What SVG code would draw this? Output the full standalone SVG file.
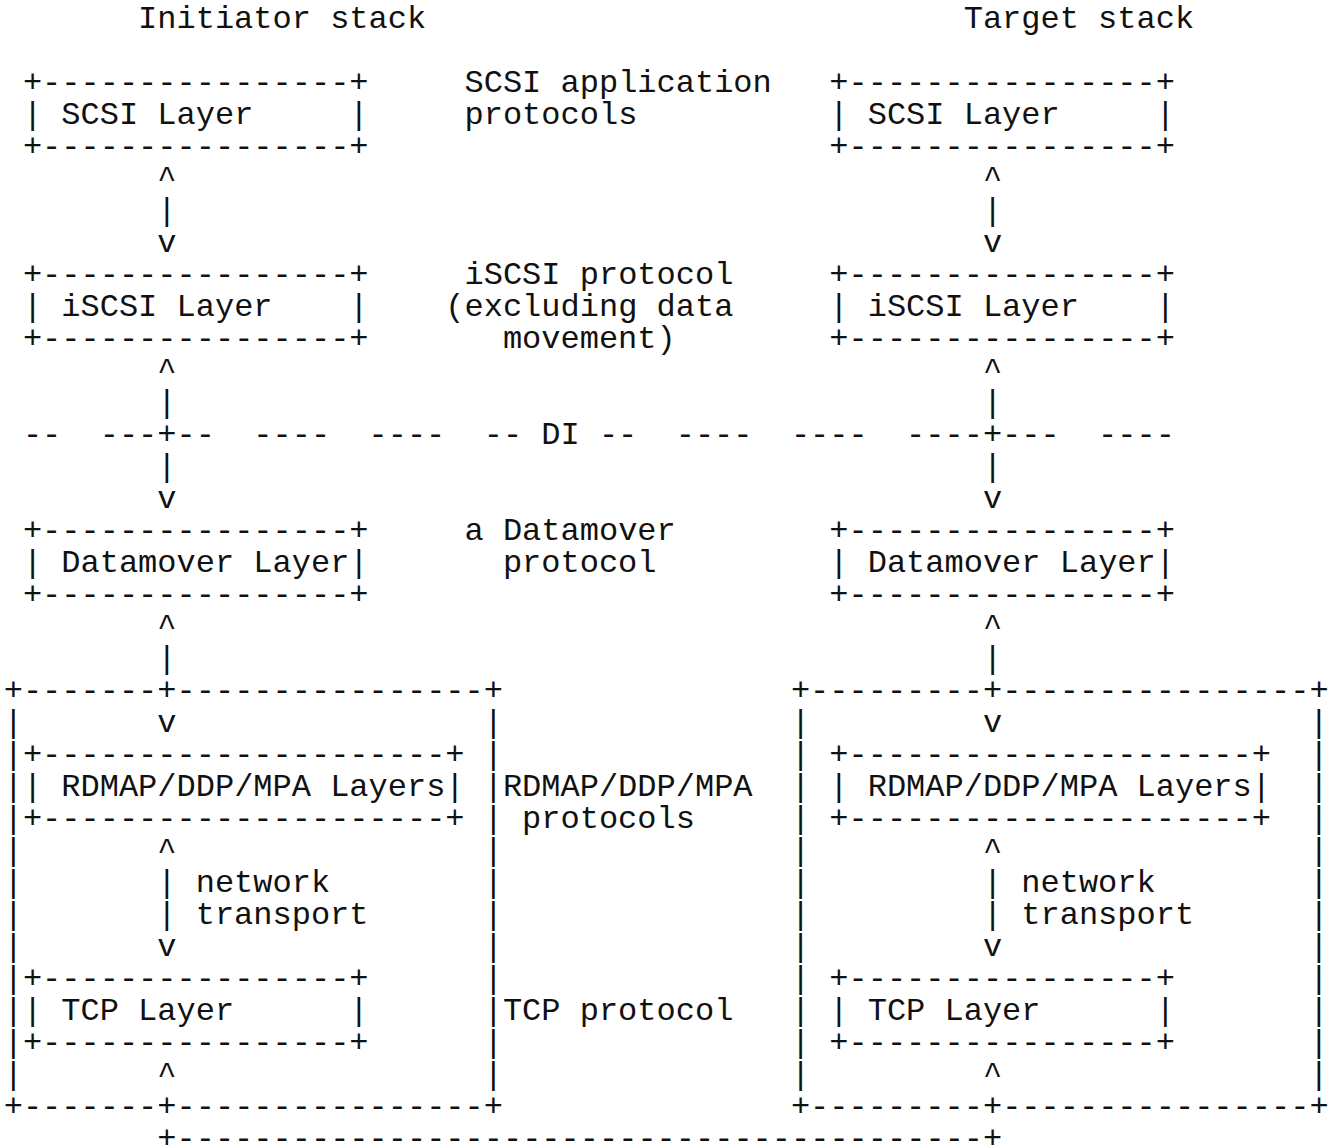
<svg xmlns="http://www.w3.org/2000/svg" width="1331" height="1146" viewBox="0 0 1331 1146" xml:space="preserve">
<style>
text { font-family: "Liberation Mono", "Courier New", monospace; font-size: 32px; fill: #111; }
</style>
<rect width="1331" height="1146" fill="#fff"/>
<g id="titles">
<text x="138.1" y="28">Initiator stack</text>
<text x="963.7" y="28">Target stack</text>
</g>
<g id="init-scsi">
<text x="22.9" y="92">+----------------+</text>
<text><tspan x="22.9" y="124">|</tspan><tspan x="61.3" y="124">SCSI Layer</tspan><tspan x="349.3" y="124">|</tspan></text>
<text x="22.9" y="156">+----------------+</text>
</g>
<g id="init-iscsi">
<text x="22.9" y="284">+----------------+</text>
<text><tspan x="22.9" y="316">|</tspan><tspan x="61.3" y="316">iSCSI Layer</tspan><tspan x="349.3" y="316">|</tspan></text>
<text x="22.9" y="348">+----------------+</text>
</g>
<g id="init-datamover">
<text x="22.9" y="540">+----------------+</text>
<text><tspan x="22.9" y="572">|</tspan><tspan x="61.3" y="572">Datamover Layer</tspan><tspan x="349.3" y="572">|</tspan></text>
<text x="22.9" y="604">+----------------+</text>
</g>
<g id="init-rnic">
<text x="3.7" y="700">+-------+----------------+</text>
<text><tspan x="3.7" y="732">|</tspan><tspan x="3.7" y="764">|</tspan><tspan x="3.7" y="796">|</tspan><tspan x="3.7" y="828">|</tspan><tspan x="3.7" y="860">|</tspan><tspan x="3.7" y="892">|</tspan><tspan x="3.7" y="924">|</tspan><tspan x="3.7" y="956">|</tspan><tspan x="3.7" y="988">|</tspan><tspan x="3.7" y="1020">|</tspan><tspan x="3.7" y="1052">|</tspan><tspan x="3.7" y="1084">|</tspan></text>
<text><tspan x="483.7" y="732">|</tspan><tspan x="483.7" y="764">|</tspan><tspan x="483.7" y="796">|</tspan><tspan x="483.7" y="828">|</tspan><tspan x="483.7" y="860">|</tspan><tspan x="483.7" y="892">|</tspan><tspan x="483.7" y="924">|</tspan><tspan x="483.7" y="956">|</tspan><tspan x="483.7" y="988">|</tspan><tspan x="483.7" y="1020">|</tspan><tspan x="483.7" y="1052">|</tspan><tspan x="483.7" y="1084">|</tspan></text>
<text x="3.7" y="1116">+-------+----------------+</text>
</g>
<g id="init-rdmap">
<text x="22.9" y="764">+---------------------+</text>
<text><tspan x="22.9" y="796">|</tspan><tspan x="61.3" y="796">RDMAP/DDP/MPA Layers</tspan><tspan x="445.3" y="796">|</tspan></text>
<text x="22.9" y="828">+---------------------+</text>
</g>
<g id="init-tcp">
<text x="22.9" y="988">+----------------+</text>
<text><tspan x="22.9" y="1020">|</tspan><tspan x="61.3" y="1020">TCP Layer</tspan><tspan x="349.3" y="1020">|</tspan></text>
<text x="22.9" y="1052">+----------------+</text>
</g>
<g id="target-scsi">
<text x="829.3" y="92">+----------------+</text>
<text><tspan x="829.3" y="124">|</tspan><tspan x="867.7" y="124">SCSI Layer</tspan><tspan x="1155.7" y="124">|</tspan></text>
<text x="829.3" y="156">+----------------+</text>
</g>
<g id="target-iscsi">
<text x="829.3" y="284">+----------------+</text>
<text><tspan x="829.3" y="316">|</tspan><tspan x="867.7" y="316">iSCSI Layer</tspan><tspan x="1155.7" y="316">|</tspan></text>
<text x="829.3" y="348">+----------------+</text>
</g>
<g id="target-datamover">
<text x="829.3" y="540">+----------------+</text>
<text><tspan x="829.3" y="572">|</tspan><tspan x="867.7" y="572">Datamover Layer</tspan><tspan x="1155.7" y="572">|</tspan></text>
<text x="829.3" y="604">+----------------+</text>
</g>
<g id="target-rnic">
<text x="790.9" y="700">+---------+----------------+</text>
<text><tspan x="790.9" y="732">|</tspan><tspan x="790.9" y="764">|</tspan><tspan x="790.9" y="796">|</tspan><tspan x="790.9" y="828">|</tspan><tspan x="790.9" y="860">|</tspan><tspan x="790.9" y="892">|</tspan><tspan x="790.9" y="924">|</tspan><tspan x="790.9" y="956">|</tspan><tspan x="790.9" y="988">|</tspan><tspan x="790.9" y="1020">|</tspan><tspan x="790.9" y="1052">|</tspan><tspan x="790.9" y="1084">|</tspan></text>
<text><tspan x="1309.3" y="732">|</tspan><tspan x="1309.3" y="764">|</tspan><tspan x="1309.3" y="796">|</tspan><tspan x="1309.3" y="828">|</tspan><tspan x="1309.3" y="860">|</tspan><tspan x="1309.3" y="892">|</tspan><tspan x="1309.3" y="924">|</tspan><tspan x="1309.3" y="956">|</tspan><tspan x="1309.3" y="988">|</tspan><tspan x="1309.3" y="1020">|</tspan><tspan x="1309.3" y="1052">|</tspan><tspan x="1309.3" y="1084">|</tspan></text>
<text x="790.9" y="1116">+---------+----------------+</text>
</g>
<g id="target-rdmap">
<text x="829.3" y="764">+---------------------+</text>
<text><tspan x="829.3" y="796">|</tspan><tspan x="867.7" y="796">RDMAP/DDP/MPA Layers</tspan><tspan x="1251.7" y="796">|</tspan></text>
<text x="829.3" y="828">+---------------------+</text>
</g>
<g id="target-tcp">
<text x="829.3" y="988">+----------------+</text>
<text><tspan x="829.3" y="1020">|</tspan><tspan x="867.7" y="1020">TCP Layer</tspan><tspan x="1155.7" y="1020">|</tspan></text>
<text x="829.3" y="1052">+----------------+</text>
</g>
<g id="protocol-labels">
<text x="464.5" y="92">SCSI application</text>
<text x="464.5" y="124">protocols</text>
<text x="464.5" y="284">iSCSI protocol</text>
<text x="445.3" y="316">(excluding data</text>
<text x="502.9" y="348">movement)</text>
<text x="464.5" y="540">a Datamover</text>
<text x="502.9" y="572">protocol</text>
<text x="502.9" y="796">RDMAP/DDP/MPA</text>
<text x="522.1" y="828">protocols</text>
<text x="502.9" y="1020">TCP protocol</text>
</g>
<g id="connectors">
<text><tspan x="157.3" y="188">^</tspan><tspan x="157.3" y="220">|</tspan><tspan x="157.3" y="252">v</tspan><tspan x="157.3" y="380">^</tspan><tspan x="157.3" y="412">|</tspan><tspan x="157.3" y="476">|</tspan><tspan x="157.3" y="508">v</tspan><tspan x="157.3" y="636">^</tspan><tspan x="157.3" y="668">|</tspan><tspan x="157.3" y="732">v</tspan><tspan x="157.3" y="860">^</tspan><tspan x="157.3" y="892">|</tspan><tspan x="157.3" y="924">|</tspan><tspan x="157.3" y="956">v</tspan><tspan x="157.3" y="1084">^</tspan></text>
<text><tspan x="982.9" y="188">^</tspan><tspan x="982.9" y="220">|</tspan><tspan x="982.9" y="252">v</tspan><tspan x="982.9" y="380">^</tspan><tspan x="982.9" y="412">|</tspan><tspan x="982.9" y="476">|</tspan><tspan x="982.9" y="508">v</tspan><tspan x="982.9" y="636">^</tspan><tspan x="982.9" y="668">|</tspan><tspan x="982.9" y="732">v</tspan><tspan x="982.9" y="860">^</tspan><tspan x="982.9" y="892">|</tspan><tspan x="982.9" y="924">|</tspan><tspan x="982.9" y="956">v</tspan><tspan x="982.9" y="1084">^</tspan></text>
<text><tspan x="195.7" y="892">network</tspan><tspan x="195.7" y="924">transport</tspan><tspan x="1021.3" y="892">network</tspan><tspan x="1021.3" y="924">transport</tspan></text>
<text><tspan x="22.9" y="444">--</tspan><tspan x="99.7" y="444">---+--</tspan><tspan x="253.3" y="444">----</tspan><tspan x="368.5" y="444">----</tspan><tspan x="483.7" y="444">-- DI --</tspan><tspan x="675.7" y="444">----</tspan><tspan x="790.9" y="444">----</tspan><tspan x="906.1" y="444">----+---</tspan><tspan x="1098.1" y="444">----</tspan></text>
<text x="157.3" y="1148">+------------------------------------------+</text>
</g>
</svg>
